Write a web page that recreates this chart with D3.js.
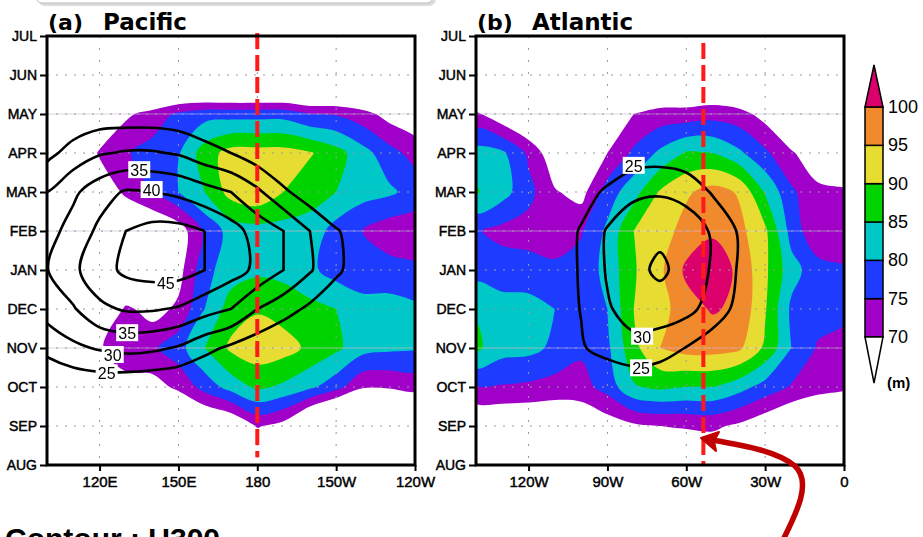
<!DOCTYPE html>
<html>
<head>
<meta charset="utf-8">
<script src="https://cdn.jsdelivr.net/npm/d3@7"></script>
<style>
  body { margin: 0; background: #fff; }
  svg { display: block; }
  text { font-family: "Liberation Sans", Arial, sans-serif; fill: #000; }
</style>
</head>
<body>
<svg id="chart" width="923" height="537"></svg>
<script>
// ---- data ----
var months = ["JUL", "JUN", "MAY", "APR", "MAR", "FEB", "JAN", "DEC", "NOV", "OCT", "SEP", "AUG"];

var pacLons = [100, 110, 120, 130, 140, 150, 160, 170, 180, 190, 200, 210, 220, 230, 240];
var atlLons = [-140, -130, -120, -110, -100, -90, -80, -70, -60, -50, -40, -30, -20, -10, 0];

var pacTicks = [120, 150, 180, 210, 240];
var pacTickLabels = ["120E", "150E", "180", "150W", "120W"];
var atlTicks = [-120, -90, -60, -30, 0];
var atlTickLabels = ["120W", "90W", "60W", "30W", "0"];

var shadeLevels = [70, 75, 80, 85, 90, 95, 100];
var shadeColors = ["#a000c8", "#1e3cff", "#00c8c8", "#00d400", "#e6dc32", "#f08a2d", "#dc006c"];
var windLevels = [25, 30, 35, 40, 45];

// shaded field (m), rows JUL..AUG, columns = pacLons
var pacZ = [
  [45, 45, 46, 47, 48, 49, 50, 50, 50, 50, 49, 48, 47, 46, 45],
  [48, 49, 50, 51, 52, 52, 51, 50, 50, 50, 51, 52, 53, 54, 55],
  [50, 55, 60, 69, 72, 76, 78, 78, 78, 78, 75, 74.5, 72, 68, 66],
  [52, 60, 71, 74.5, 77, 79.5, 87.5, 92, 92, 92, 90.5, 87, 82, 77, 73],
  [50, 56, 64, 71.5, 75, 80, 85, 92, 94, 90, 87, 85, 82, 81, 78],
  [48, 52, 56, 60, 64, 67, 76, 82, 83, 83, 83, 78, 75, 72, 71.5],
  [45, 50, 55, 60, 64, 68, 78.5, 82.5, 84, 83.5, 81, 78, 77, 77, 76],
  [50, 55, 62, 71, 68, 71, 80, 87.5, 89.5, 88, 86.5, 85, 82, 82, 81],
  [55, 62, 69.5, 73, 74, 78, 85, 91, 93, 92, 89, 86, 82, 81, 80.5],
  [58, 60, 63, 68, 68, 71, 77, 82, 86, 84, 81, 77, 70.5, 70.5, 71.5],
  [50, 52, 55, 58, 60, 61, 62, 64, 70.5, 68, 59, 52, 55, 58, 60],
  [45, 46, 48, 50, 52, 54, 56, 58, 60, 58, 56, 54, 52, 50, 48]
];

// U300 (m/s), rows JUL..AUG, columns = pacLons
var pacU = [
  [10, 10, 10, 10, 10, 10, 10, 10, 9, 9, 8, 8, 8, 8, 8],
  [14, 15, 15, 15, 15, 14, 14, 13, 12, 11, 10, 10, 9, 9, 9],
  [19, 21, 22, 22, 22, 21.5, 20.5, 19, 17, 15, 14, 13, 12, 11, 10],
  [23.5, 27, 29.5, 30.5, 30.5, 29.5, 27, 25, 22, 19, 17, 15, 13, 12, 11],
  [30, 34, 38, 40.5, 40, 39, 37, 35, 31, 26, 22, 19, 17, 15, 14],
  [33, 37, 41, 45, 46.5, 46.5, 45, 42, 38, 35, 30, 25.5, 22, 19, 17],
  [34.8, 39, 43, 46, 47, 47, 45, 42, 39, 35, 30.5, 26, 22, 19, 17],
  [32, 34.5, 39, 40.5, 40.5, 39.5, 37, 35, 30, 27, 24, 21, 18, 16, 15],
  [26.5, 29, 30.5, 31.5, 31, 29.5, 26.5, 24, 22, 20, 18, 16, 15, 14, 13],
  [20, 21, 21.5, 21, 20.5, 20, 19, 18, 17, 16, 15, 14, 13, 12, 12],
  [15, 16, 16, 16, 15, 15, 14, 14, 13, 13, 12, 12, 11, 11, 10],
  [12, 12, 12, 12, 12, 12, 11, 11, 11, 10, 10, 10, 9, 9, 9]
];

var atlZ = [
  [48, 48, 48, 48, 48, 50, 52, 54, 54, 54, 52, 50, 48, 48, 48],
  [51, 50, 48, 47, 47, 50, 56, 59, 60, 60, 58, 55, 52, 50, 50],
  [71, 66, 62, 58, 58, 64, 70, 72, 72, 73, 72, 68, 64, 62, 60],
  [82, 81, 74, 66, 63, 70, 76, 81, 85.5, 85, 81, 76, 70.5, 67, 66],
  [85.5, 82, 76.5, 70.5, 68, 77.5, 83, 90.5, 94.2, 97, 94.5, 84.5, 76, 71, 70.5],
  [75.5, 73.5, 73, 72.5, 74.5, 81, 90, 92.5, 97, 99.3, 96.5, 91, 78, 71, 72],
  [78, 77.5, 77, 76, 77, 81.5, 89.5, 94, 101, 103, 99, 91, 82, 77, 75.5],
  [84.5, 82, 82, 80, 77, 80, 90, 93, 98, 100.5, 99, 90.5, 79, 77, 76.5],
  [86, 82, 81.5, 79, 76, 79, 88.5, 95, 97, 97, 96, 89, 80, 74.5, 73],
  [74.5, 74.5, 74, 73, 73, 77, 84.5, 86, 85, 85, 82, 78, 74.5, 72, 71],
  [64, 64, 64, 64, 65, 67, 69, 70, 70.5, 71, 69, 66, 63, 62, 61],
  [58, 58, 58, 58, 58, 60, 62, 63, 64, 64, 63, 62, 60, 58, 56]
];

var atlU = [
  [8, 8, 8, 9, 9, 9, 10, 10, 10, 9, 9, 8, 8, 8, 8],
  [9, 9, 10, 11, 12, 13, 14, 14, 14, 13, 12, 11, 10, 9, 9],
  [10, 11, 12, 13, 14, 16, 17, 17.5, 17, 16, 14, 13, 12, 11, 10],
  [11, 12, 14, 16, 18, 20, 22, 22.5, 21.5, 19.5, 17, 15, 13, 12, 11],
  [12, 14, 16, 19, 22.5, 26, 29, 29.5, 28.5, 24.5, 21, 18, 16, 14, 12],
  [13, 15, 18, 21.5, 25.5, 30.5, 33, 33.8, 32.5, 29.5, 24.5, 20, 17, 15, 13],
  [14, 16, 19, 22, 25.5, 30.5, 33.5, 36, 33, 29.5, 24.5, 20, 17, 15, 13],
  [14, 16, 19, 22, 25.2, 29.5, 32, 32.4, 31.5, 28, 23.5, 20, 17, 15, 13],
  [13, 15, 17, 20, 24.5, 27, 28.5, 27.5, 24.8, 22, 19.5, 17, 15, 13, 12],
  [11, 12, 14, 16, 18, 20, 21, 20.5, 19, 17, 15, 14, 12, 11, 10],
  [9, 10, 11, 12, 13, 14, 15, 15, 14, 13, 12, 11, 10, 9, 9],
  [8, 8, 9, 9, 10, 10, 11, 11, 11, 10, 10, 9, 9, 8, 8]
];

// contour labels: [value, lon, month row]
var pacLabels = [[35, 135.1, 3.44], [40, 139.8, 3.95], [45, 145.2, 6.33], [35, 130.5, 7.62], [30, 125, 8.18], [25, 122.7, 8.65]];
var atlLabels = [[25, -80, 3.33], [30, -76.8, 7.71], [25, -77.2, 8.52]];

// ---- layout ----
var svg = d3.select("#chart");
var plotTop = 36, plotBottom = 465;
var y = d3.scaleLinear().domain([0, months.length - 1]).range([plotTop, plotBottom]);

// title box (cut off at the top)
svg.append("rect").attr("x", 38).attr("y", -20).attr("width", 398).attr("height", 26)
    .attr("rx", 7).attr("fill", "#dcdcdc");
svg.append("rect").attr("x", 36).attr("y", -22).attr("width", 397).attr("height", 25)
    .attr("rx", 6).attr("fill", "#fff").attr("stroke", "#bdbdbd").attr("stroke-width", 1);

function drawPanel(opt) {
    var x = d3.scaleLinear().domain([opt.lons[0], opt.lons[opt.lons.length - 1]]).range([opt.left, opt.right]);
    var step = opt.lons[1] - opt.lons[0];
    var nx = opt.lons.length, ny = months.length;

    // grid coords from d3.contours -> pixels (values sit at cell centres)
    function px(c) { return x(opt.lons[0] + (c - 0.5) * step); }
    function py(r) { return y(r - 0.5); }
    var line = d3.line().curve(d3.curveCatmullRomClosed.alpha(0.5));
    function geomPath(geom) {
        return geom.coordinates.map(function (poly) {
            return poly.map(function (ring) {
                return line(ring.slice(0, -1).map(function (p) { return [px(p[0]), py(p[1])]; }));
            }).join("");
        }).join("");
    }

    var g = svg.append("g");
    g.append("clipPath").attr("id", opt.id + "-clip")
        .append("rect")
        .attr("x", opt.left).attr("y", plotTop)
        .attr("width", opt.right - opt.left).attr("height", plotBottom - plotTop);

    var inner = g.append("g").attr("clip-path", "url(#" + opt.id + "-clip)");

    // shaded contours
    var fills = d3.contours().size([nx, ny]).thresholds(shadeLevels)(opt.z.flat());
    inner.selectAll("path.shade").data(fills).join("path")
        .attr("class", "shade")
        .attr("d", geomPath)
        .attr("fill-rule", "evenodd")
        .attr("fill", function (d, i) { return shadeColors[i]; });

    // faint seam lines every three months
    inner.selectAll("line.seam").data([2, 5, 8]).join("line")
        .attr("class", "seam")
        .attr("x1", opt.left).attr("x2", opt.right)
        .attr("y1", function (d) { return y(d); }).attr("y2", function (d) { return y(d); })
        .attr("stroke", "#c8b4d2").attr("stroke-opacity", 0.6).attr("stroke-width", 1)
        .style("mix-blend-mode", "lighten");

    // dotted grid
    inner.selectAll("line.hgrid").data(d3.range(1, months.length - 1)).join("line")
        .attr("class", "hgrid")
        .attr("x1", opt.left).attr("x2", opt.right)
        .attr("y1", function (d) { return y(d); }).attr("y2", function (d) { return y(d); })
        .attr("stroke", "#9a9a9a").attr("stroke-width", 1).attr("stroke-dasharray", "2,7");
    inner.selectAll("line.vgrid").data(opt.ticks.slice(0, -1)).join("line")
        .attr("class", "vgrid")
        .attr("x1", function (d) { return x(d); }).attr("x2", function (d) { return x(d); })
        .attr("y1", plotTop).attr("y2", plotBottom)
        .attr("stroke", "#9a9a9a").attr("stroke-width", 1).attr("stroke-dasharray", "2,10");

    // U300 contour lines
    var lines = d3.contours().size([nx, ny]).thresholds(windLevels)(opt.u.flat());
    inner.selectAll("path.wind").data(lines).join("path")
        .attr("class", "wind")
        .attr("d", geomPath)
        .attr("fill", "none")
        .attr("stroke", "#000")
        .attr("stroke-width", 2.6)
        .attr("stroke-linejoin", "round");

    // contour labels
    var lab = inner.selectAll("g.clabel").data(opt.labels).join("g")
        .attr("class", "clabel")
        .attr("transform", function (d) { return "translate(" + x(d[1]) + "," + y(d[2]) + ")"; });
    lab.append("rect").attr("x", -11).attr("y", -9).attr("width", 22).attr("height", 17).attr("fill", "#fff");
    lab.append("text").attr("text-anchor", "middle").attr("y", 6)
        .attr("font-size", "16px").text(function (d) { return d[0]; });

    // red dashed reference longitude
    g.append("line")
        .attr("x1", x(opt.dashLon)).attr("x2", x(opt.dashLon))
        .attr("y1", y(opt.dashRows[0])).attr("y2", y(opt.dashRows[1]))
        .attr("stroke", "#ff1a1a").attr("stroke-width", 4).attr("stroke-dasharray", "16,6");

    // frame
    g.append("rect")
        .attr("x", opt.left).attr("y", plotTop)
        .attr("width", opt.right - opt.left).attr("height", plotBottom - plotTop)
        .attr("fill", "none").attr("stroke", "#000").attr("stroke-width", 3);

    // axes
    var xAxis = g.append("g").attr("transform", "translate(0," + plotBottom + ")")
        .call(d3.axisBottom(x).tickValues(opt.ticks)
            .tickFormat(function (d, i) { return opt.tickLabels[i]; })
            .tickSize(6).tickPadding(5));
    var yAxis = g.append("g").attr("transform", "translate(" + opt.left + ",0)")
        .call(d3.axisLeft(y).tickValues(d3.range(months.length))
            .tickFormat(function (i) { return months[i]; })
            .tickSize(7).tickPadding(3));
    [xAxis, yAxis].forEach(function (ax) {
        ax.select(".domain").remove();
        ax.selectAll(".tick line").attr("stroke", "#000").attr("stroke-width", 2);
        ax.selectAll(".tick text")
            .attr("font-family", "'Liberation Sans', Arial, sans-serif")
            .attr("fill", "#000").attr("stroke", "#000").attr("stroke-width", 0.45);
    });
    xAxis.selectAll(".tick text").attr("font-size", "15px");
    yAxis.selectAll(".tick text").attr("font-size", "14px");

    // title
    g.append("text").attr("x", opt.left + 1).attr("y", 30)
        .style("font-family", "'DejaVu Sans', sans-serif").attr("font-weight", "bold")
        .attr("font-size", "22px").text(opt.tag);
    g.append("text").attr("x", opt.left + 56).attr("y", 30)
        .style("font-family", "'DejaVu Sans', sans-serif").attr("font-weight", "bold")
        .attr("font-size", "23px").text(opt.title);
}

drawPanel({
    id: "pac", left: 47, right: 415, lons: pacLons, z: pacZ, u: pacU,
    ticks: pacTicks, tickLabels: pacTickLabels, labels: pacLabels,
    tag: "(a)", title: "Pacific", dashLon: 180, dashRows: [-0.08, 10.8]
});
drawPanel({
    id: "atl", left: 476, right: 844, lons: atlLons, z: atlZ, u: atlU,
    ticks: atlTicks, tickLabels: atlTickLabels, labels: atlLabels,
    tag: "(b)", title: "Atlantic", dashLon: -53.5, dashRows: [0.18, 11]
});

// ---- colour bar ----
var cb = svg.append("g");
var cbX = 865, cbW = 18;
var cy = d3.scaleLinear().domain([70, 100]).range([337, 107]);
var bands = d3.pairs(shadeLevels);
cb.selectAll("rect.band").data(bands).join("rect")
    .attr("class", "band")
    .attr("x", cbX).attr("width", cbW)
    .attr("y", function (d) { return cy(d[1]); })
    .attr("height", function (d) { return cy(d[0]) - cy(d[1]); })
    .attr("fill", function (d, i) { return shadeColors[i]; })
    .attr("stroke", "#000").attr("stroke-width", 1.5);
cb.append("path")
    .attr("d", "M" + cbX + "," + cy(100) + "L" + (cbX + cbW / 2) + "," + (cy(100) - 42) + "L" + (cbX + cbW) + "," + cy(100) + "Z")
    .attr("fill", shadeColors[6]).attr("stroke", "#000").attr("stroke-width", 1.5);
cb.append("path")
    .attr("d", "M" + cbX + "," + cy(70) + "L" + (cbX + cbW / 2) + "," + (cy(70) + 46) + "L" + (cbX + cbW) + "," + cy(70) + "Z")
    .attr("fill", "#fff").attr("stroke", "#000").attr("stroke-width", 1.5);
cb.selectAll("text.cbl").data(shadeLevels).join("text")
    .attr("class", "cbl")
    .attr("x", cbX + cbW + 5).attr("y", function (d) { return cy(d) + 6; })
    .attr("font-size", "18px").text(function (d) { return d; });
cb.append("text").attr("x", 887).attr("y", 388)
    .attr("font-size", "15px").attr("font-weight", "bold").text("(m)");

// ---- annotation ----
svg.append("text").attr("x", 5).attr("y", 549)
    .attr("font-size", "30px").attr("font-weight", "bold").text("Contour : U300");

svg.append("path")
    .attr("d", "M783,540 C797,512 812,482 795,466 C778,452 748,446 712,440")
    .attr("fill", "none").attr("stroke", "#c00000").attr("stroke-width", 5.5);
svg.append("path")
    .attr("d", "M701,438 L719,432 L714,441 L716,451 Z")
    .attr("fill", "#c00000").attr("stroke", "#c00000").attr("stroke-width", 2).attr("stroke-linejoin", "round");
</script>
</body>
</html>
